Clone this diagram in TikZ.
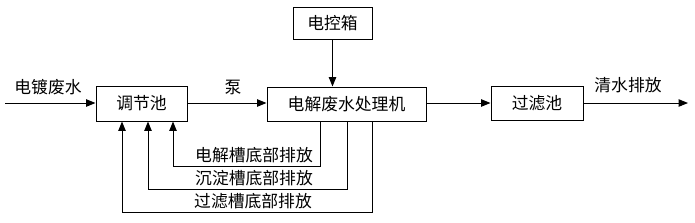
\documentclass[tikz,border=0pt]{standalone}
\usepackage{fontspec}
\setmainfont{Noto Sans CJK SC}
\usetikzlibrary{arrows.meta}
\begin{document}
\begin{tikzpicture}[x=0.75pt,y=-0.75pt,
  box/.style={draw,line width=0.75pt,rectangle,inner sep=0pt,font=\fontsize{12.6}{14}\selectfont},
  lbl/.style={inner sep=0pt,font=\fontsize{12.6}{14}\selectfont},
  arr/.style={line width=0.75pt,-{Triangle[length=7pt,width=5.5pt]}},
  ln/.style={line width=0.75pt}]
\useasboundingbox (0,0) rectangle (695,222);
\node[box,minimum width=68.25pt,minimum height=26.25pt] (tj) at (141.5,103.5) {调节池};
\node[box,minimum width=119.25pt,minimum height=25.5pt] (dj) at (346.5,104) {电解废水处理机};
\node[box,minimum width=59.25pt,minimum height=24pt] (dk) at (332.5,23) {电控箱};
\node[box,minimum width=69pt,minimum height=25.5pt] (gl) at (537,103) {过滤池};
\coordinate (in) at (5,103);
\coordinate (out) at (688,103);
\draw[arr] (in) -- (tj.west |- in);
\draw[arr] (tj.east |- in) -- (dj.west |- in);
\draw[arr] (dj.east |- in) -- (gl.west |- in);
\draw[arr] (gl.east |- in) -- (out);
\draw[arr] (dk.south) -- (dk.south |- dj.north);
\node[lbl] (l1) at (48,87) {电镀废水};
\node[lbl] (l2) at (233,87) {泵};
\node[lbl] (l3) at (628,85) {清水排放};
\coordinate (s1) at (320,166);
\coordinate (s2) at (347,189);
\coordinate (s3) at (372,212);
\coordinate (e1) at (173,0);
\coordinate (e2) at (148,0);
\coordinate (e3) at (122,0);
\draw[arr] (s1 |- dj.south) -- (s1) -| (e1 |- tj.south);
\draw[arr] (s2 |- dj.south) -- (s2) -| (e2 |- tj.south);
\draw[arr] (s3 |- dj.south) -- (s3) -| (e3 |- tj.south);
\node[lbl] (t1) at (254,155) {电解槽底部排放};
\node[lbl] (t2) at (254,178) {沉淀槽底部排放};
\node[lbl] (t3) at (253,201) {过滤槽底部排放};
\end{tikzpicture}
\end{document}
